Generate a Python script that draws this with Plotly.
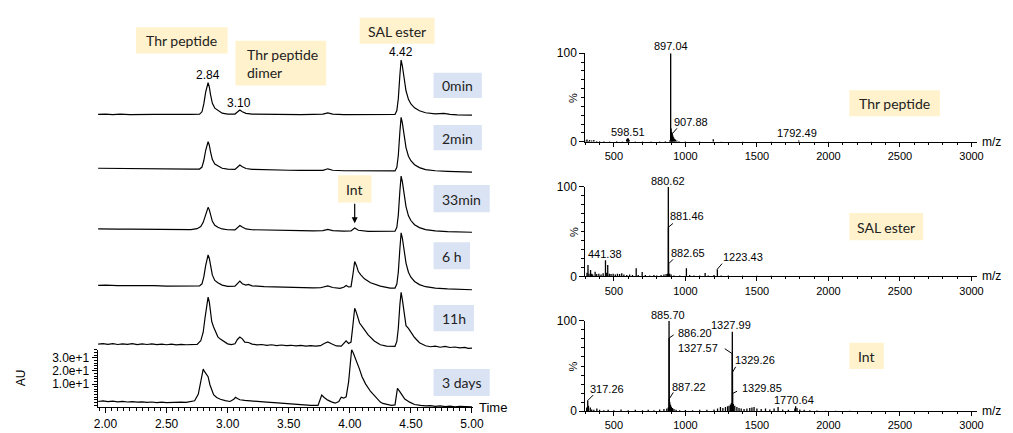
import plotly.graph_objects as go

W, H = 1013, 433

# ======================= DATA =======================
# LC traces: (retention time [min], signal [AU]); upper traces relative to their own baseline
lc_0min = [(1.94, 0.0), (2.0, 0.3), (2.06, -0.2), (2.12, 0.2), (2.2, -0.1), (2.3, 0.2), (2.4, 0.0), (2.5, 0.1),
           (2.6, -0.1), (2.7, 0.1), (2.77, 0.2), (2.79, 2.0), (2.805, 8.0), (2.82, 17.0), (2.84, 24.1), (2.85, 21.0),
           (2.86, 15.0), (2.875, 8.5), (2.895, 4.8), (2.92, 3.0), (2.955, 1.0), (3.0, 0.3), (3.06, 0.3), (3.08, 1.8),
           (3.10, 3.3), (3.12, 2.0), (3.15, 0.8), (3.2, 0.3), (3.3, 0.1), (3.4, -0.1), (3.5, 0.0), (3.6, -0.2),
           (3.7, 0.0), (3.78, 0.2), (3.82, 1.2), (3.86, 0.2), (3.95, -0.1), (4.05, -0.2), (4.15, -0.3), (4.25, -0.2),
           (4.33, -0.3), (4.37, 0.0), (4.385, 3.0), (4.397, 12.0), (4.41, 30.0), (4.42, 41.3), (4.43, 37.0),
           (4.445, 26.0), (4.46, 18.0), (4.48, 11.5), (4.50, 8.0), (4.53, 5.0), (4.57, 2.8), (4.62, 1.3), (4.7, 0.4),
           (4.77, 0.8), (4.82, 0.0), (4.88, -0.3), (4.95, -0.4), (5.0, -0.5)]

lc_2min = [(1.94, 0.0), (2.0, -0.1), (2.1, 0.1), (2.2, -0.4), (2.3, -0.3), (2.4, -0.6), (2.5, -0.6), (2.6, -0.8),
           (2.7, -0.7), (2.77, -0.6), (2.79, 0.9), (2.805, 5.9), (2.82, 13.5), (2.84, 20.2), (2.85, 17.5),
           (2.86, 12.5), (2.875, 6.6), (2.895, 3.2), (2.92, 1.7), (2.955, 0.0), (3.0, -0.7), (3.06, -0.9),
           (3.08, 0.8), (3.10, 2.5), (3.12, 1.2), (3.15, -0.2), (3.2, -0.8), (3.3, -1.2), (3.4, -1.3), (3.5, -1.5),
           (3.6, -1.6), (3.7, -1.7), (3.78, -1.6), (3.82, -0.4), (3.86, -1.5), (3.95, -1.9), (4.05, -2.0),
           (4.15, -2.1), (4.25, -2.2), (4.33, -2.3), (4.37, -2.0), (4.385, 0.7), (4.397, 9.7), (4.41, 27.7),
           (4.42, 38.7), (4.43, 34.5), (4.445, 23.7), (4.46, 15.7), (4.48, 9.2), (4.50, 5.7), (4.53, 2.7),
           (4.57, 0.5), (4.62, -1.0), (4.7, -1.9), (4.8, -2.4), (4.9, -2.7), (5.0, -3.0)]

lc_33min = [(1.94, 0.0), (2.0, 0.1), (2.1, -0.1), (2.2, -0.2), (2.3, -0.3), (2.4, -0.4), (2.5, -0.5), (2.6, -0.6),
            (2.7, -0.5), (2.75, 0.2), (2.78, 1.8), (2.8, 5.0), (2.82, 11.0), (2.84, 16.4), (2.85, 14.5),
            (2.86, 10.5), (2.875, 5.8), (2.895, 2.8), (2.92, 1.3), (2.955, 0.0), (3.0, -0.6), (3.06, -0.7),
            (3.08, 1.0), (3.10, 2.6), (3.12, 1.4), (3.15, 0.0), (3.2, -0.6), (3.3, -0.9), (3.4, -1.0), (3.5, -1.2),
            (3.6, -1.3), (3.7, -1.4), (3.78, -1.3), (3.82, -0.4), (3.86, -1.3), (3.95, -1.6), (4.01, -1.5),
            (4.04, 0.7), (4.07, -1.0), (4.15, -1.8), (4.25, -1.9), (4.33, -2.0), (4.37, -1.7), (4.385, 1.2),
            (4.397, 10.5), (4.41, 29.0), (4.42, 40.1), (4.43, 36.0), (4.445, 25.0), (4.46, 17.0), (4.48, 10.0),
            (4.50, 6.4), (4.53, 3.2), (4.57, 1.0), (4.62, -0.5), (4.7, -1.5), (4.8, -2.0), (4.9, -2.3), (5.0, -2.5)]

lc_6h = [(1.94, 0.0), (2.0, 0.2), (2.1, -0.1), (2.2, 0.0), (2.3, -0.3), (2.4, -0.2), (2.5, -0.5), (2.6, -0.5),
         (2.7, -0.6), (2.77, -0.4), (2.79, 1.2), (2.805, 6.5), (2.82, 15.0), (2.84, 23.2), (2.85, 20.5),
         (2.86, 14.5), (2.875, 7.8), (2.895, 3.8), (2.92, 2.0), (2.955, 0.2), (3.0, -0.7), (3.06, -0.6),
         (3.08, 1.5), (3.10, 3.2), (3.12, 1.3), (3.15, 0.2), (3.17, 0.7), (3.2, -0.3), (3.3, -1.0), (3.4, -1.3),
         (3.5, -1.5), (3.6, -1.7), (3.7, -1.9), (3.76, -1.8), (3.79, -0.8), (3.82, -0.4), (3.86, -1.6),
         (3.92, -2.2), (3.95, -1.4), (3.97, 0.0), (3.99, -1.2), (4.01, -1.0), (4.025, 8.0), (4.04, 18.1),
         (4.055, 15.0), (4.07, 10.5), (4.09, 8.0), (4.12, 5.0), (4.17, 2.0), (4.25, -0.6), (4.33, -2.0),
         (4.37, -2.0), (4.385, 1.0), (4.397, 10.0), (4.41, 28.0), (4.42, 39.9), (4.43, 36.0), (4.445, 25.0),
         (4.46, 17.0), (4.48, 10.0), (4.50, 6.2), (4.53, 3.0), (4.57, 0.6), (4.62, -1.0), (4.7, -2.0),
         (4.8, -2.6), (4.9, -3.0), (5.0, -3.3)]

lc_11h = [(1.94, 0.0), (1.98, 0.4), (2.02, -0.2), (2.06, 0.3), (2.1, -0.3), (2.14, 0.2), (2.18, -0.2), (2.22, 0.3),
          (2.26, -0.4), (2.3, 0.1), (2.34, -0.3), (2.38, 0.2), (2.42, -0.4), (2.46, 0.0), (2.5, -0.5),
          (2.54, -0.1), (2.58, -0.6), (2.62, -0.2), (2.66, -0.5), (2.7, -0.3), (2.75, -0.2), (2.78, 2.5),
          (2.80, 9.0), (2.815, 20.0), (2.83, 31.0), (2.84, 35.7), (2.85, 32.0), (2.86, 24.0), (2.87, 17.0),
          (2.885, 13.0), (2.9, 9.5), (2.92, 5.5), (2.94, 3.8), (2.97, 1.8), (3.0, 0.2), (3.03, -0.4), (3.06, 0.2),
          (3.08, 3.5), (3.10, 5.3), (3.12, 4.0), (3.14, 1.5), (3.17, 1.2), (3.2, 0.0), (3.24, -0.6), (3.28, -0.3),
          (3.32, -0.9), (3.36, -0.5), (3.4, -1.1), (3.44, -0.7), (3.48, -1.2), (3.52, -0.9), (3.56, -1.4),
          (3.6, -1.0), (3.64, -1.5), (3.68, -1.2), (3.72, -1.6), (3.76, -1.2), (3.79, 0.5), (3.82, 1.7),
          (3.85, 0.2), (3.89, -1.4), (3.93, -1.6), (3.95, 0.2), (3.97, 2.4), (3.99, 0.5), (4.01, 1.5),
          (4.025, 14.0), (4.04, 27.2), (4.05, 25.0), (4.065, 20.0), (4.08, 16.0), (4.1, 13.5), (4.12, 11.0),
          (4.15, 7.0), (4.2, 2.4), (4.25, -0.5), (4.3, -1.6), (4.34, -1.9), (4.37, -1.7), (4.385, 2.0),
          (4.397, 12.0), (4.41, 30.0), (4.42, 39.3), (4.43, 34.0), (4.445, 24.0), (4.46, 14.0), (4.48, 12.0),
          (4.50, 9.5), (4.53, 5.0), (4.57, 1.0), (4.62, -1.3), (4.66, -2.0), (4.7, -1.5), (4.74, -2.4),
          (4.78, -1.8), (4.82, -2.6), (4.86, -2.2), (4.9, -2.9), (4.94, -2.5), (4.97, -3.2), (5.0, -3.0)]

# bottom trace, absolute AU on the visible axis
lc_3days = [(1.94, -3.2), (1.98, -2.8), (2.02, -3.3), (2.06, -3.0), (2.1, -3.5), (2.14, -3.2), (2.18, -3.6),
            (2.22, -3.3), (2.26, -3.7), (2.3, -3.5), (2.34, -3.9), (2.38, -3.6), (2.42, -4.0), (2.46, -3.7),
            (2.5, -4.1), (2.54, -3.8), (2.58, -4.0), (2.62, -3.7), (2.66, -3.9), (2.7, -3.5), (2.73, -2.7),
            (2.76, 2.4), (2.78, 13.5), (2.8, 21.4), (2.81, 19.6), (2.825, 17.4), (2.84, 15.6), (2.855, 9.5),
            (2.87, 4.9), (2.885, 1.9), (2.91, -0.2), (2.94, -1.5), (2.98, -2.5), (3.02, -3.2), (3.05, -1.5),
            (3.065, 0.0), (3.08, -0.9), (3.1, -1.9), (3.14, -2.4), (3.2, -3.0), (3.26, -3.3), (3.32, -3.7),
            (3.38, -4.1), (3.44, -4.6), (3.5, -5.0), (3.56, -5.5), (3.62, -5.7), (3.68, -6.1), (3.74, -6.2),
            (3.755, -1.7), (3.77, 1.7), (3.79, -0.2), (3.82, -2.2), (3.85, -3.5), (3.88, -4.5), (3.91, -3.2),
            (3.93, 0.0), (3.95, -0.7), (3.97, 0.3), (3.99, 11.5), (4.005, 27.8), (4.015, 36.3), (4.03, 33.3),
            (4.05, 28.8), (4.065, 25.2), (4.08, 21.2), (4.1, 15.6), (4.13, 10.0), (4.17, 4.4), (4.21, 0.3),
            (4.24, -2.2), (4.25, -3.7), (4.27, -4.7), (4.3, -5.5), (4.34, -6.2), (4.37, -5.8), (4.38, 0.3),
            (4.39, 6.8), (4.405, 4.9), (4.425, 1.9), (4.45, -1.3), (4.49, -3.7), (4.53, -5.5), (4.58, -6.2),
            (4.62, -6.6), (4.66, -6.4), (4.7, -6.9), (4.74, -6.6), (4.78, -7.1), (4.82, -6.8), (4.86, -7.2),
            (4.9, -7.0), (4.95, -7.3), (5.0, -7.3)]

lc_names = ["0min", "2min", "33min", "6 h", "11h", "3 days"]
lc_series = [lc_0min, lc_2min, lc_33min, lc_6h, lc_11h, lc_3days]
# retention-time labels on the 0min trace: (time, signal, text)
lc_peak_labels = [(2.84, 24.1, "2.84"), (3.10, 3.3, "3.10"), (4.42, 41.3, "4.42")]
# intermediate peak on the 33min trace
lc_int_peak = (4.04, 0.7)
lc_yticks = [10, 20, 30]

# Mass spectra: (m/z, relative intensity %)
ms_thr = [(305, 1.5), (312, 2.5), (320, 1.0), (330, 2.0), (345, 1.5), (360, 2.0), (380, 1.0), (400, 1.0),
          (430, 0.8), (470, 0.6), (520, 0.8), (560, 0.6), (590, 2.5), (594, 3.5), (598.51, 4.0), (602, 3.5),
          (606, 2.0), (650, 0.5), (700, 0.6), (760, 0.5), (820, 0.6), (860, 0.8), (890, 1.5), (897.04, 100.0),
          (900, 15.0), (904, 11.0), (907.88, 9.0), (912, 7.0), (917, 5.0), (923, 3.5), (930, 2.5), (940, 1.5),
          (955, 1.0), (1000, 0.6), (1100, 0.5), (1195, 3.0), (1250, 0.4), (1400, 0.4), (1600, 0.3),
          (1792.49, 1.5), (2000, 0.3), (2300, 0.2)]
ms_sal = [(312, 4.0), (319, 12.6), (326, 3.0), (337, 7.0), (345, 3.0), (352, 2.0), (369, 5.0), (380, 2.5),
          (395, 3.0), (410, 2.0), (425, 3.5), (441.38, 18.0), (450, 4.0), (457, 12.6), (468, 3.0), (480, 2.5),
          (495, 3.0), (510, 2.0), (525, 3.0), (540, 2.5), (555, 3.5), (570, 2.0), (590, 1.5), (610, 2.0),
          (630, 1.5), (656, 9.0), (670, 1.5), (698, 4.7), (720, 1.5), (750, 1.0), (780, 1.5), (800, 1.0),
          (830, 1.5), (850, 2.0), (865, 2.5), (875, 3.0), (880.62, 100.0), (881.46, 55.0), (882.65, 14.0),
          (890, 3.0), (900, 2.0), (920, 1.0), (960, 1.0), (1007, 9.0), (1030, 1.5), (1060, 1.0), (1100, 1.0),
          (1138, 3.6), (1160, 1.0), (1200, 1.5), (1223.43, 8.0), (1250, 1.0), (1300, 0.8), (1400, 0.6),
          (1500, 0.5), (1600, 0.5), (1700, 0.4)]
ms_int = [(310, 4.0), (317.26, 11.8), (322, 6.0), (335, 4.0), (345, 2.0), (360, 1.5), (381, 3.0), (400, 1.5),
          (430, 1.0), (460, 1.5), (500, 1.0), (550, 2.0), (600, 1.0), (650, 1.5), (700, 1.0), (740, 1.5),
          (780, 1.0), (820, 2.0), (850, 2.5), (870, 3.0), (880, 4.0), (885.70, 100.0), (886.20, 81.0),
          (887.22, 13.6), (891, 10.0), (896, 7.0), (902, 5.0), (910, 3.5), (920, 2.5), (935, 1.5), (960, 1.0),
          (1000, 1.2), (1050, 1.0), (1100, 1.5), (1150, 1.5), (1200, 2.0), (1225, 3.0), (1245, 4.5),
          (1262, 3.5), (1280, 4.5), (1295, 5.5), (1305, 6.0), (1315, 7.5), (1322, 9.0), (1327.57, 63.6),
          (1327.99, 88.0), (1329.26, 43.0), (1329.85, 19.6), (1335, 8.0), (1345, 6.0), (1360, 4.5), (1375, 3.5),
          (1390, 3.0), (1410, 2.5), (1430, 3.0), (1450, 3.5), (1465, 4.0), (1480, 4.5), (1500, 3.0), (1530, 2.5),
          (1560, 3.0), (1590, 2.0), (1620, 3.0), (1648, 4.6), (1680, 2.0), (1720, 1.5), (1765, 3.0),
          (1770.64, 5.4), (1780, 3.5), (1800, 2.0), (1830, 1.5), (1870, 1.0), (1920, 0.8), (1980, 0.6),
          (2050, 0.5), (2150, 0.4), (2300, 0.3)]
ms_thr_labels = [897.04, 907.88, 598.51, 1792.49]
ms_sal_labels = [880.62, 881.46, 882.65, 1223.43, 441.38]
ms_int_labels = [885.70, 886.20, 887.22, 1327.99, 1327.57, 1329.26, 1329.85, 1770.64, 317.26]
ms_names = ["Thr peptide", "SAL ester", "Int"]
ms_xticks = [500, 1000, 1500, 2000, 2500, 3000]

# ======================= LAYOUT / STYLE =======================
def fx(px):
    return px / W


def fy(py):
    return 1 - py / H


TICKFONT = dict(family="Liberation Sans, Arial, sans-serif", size=12, color="black")
LABFONT = dict(family="Liberation Sans, Arial, sans-serif", size=11, color="black")
BOXFONT = dict(family="Lato, Calibri, sans-serif", size=14, color="#222222")
YELLOW, BLUE = "#FFF2CC", "#DAE3F3"
CLEAR = "rgba(0,0,0,0)"

LC_X = (95, 476)
LC_TRANGE = [1.9355, 5.008]
LC_BOT, LC_TOP = 413.5, 354.0
LC_YRANGE = [-7.5, 36.25]
PX_PER_AU = (LC_BOT - LC_TOP) / (LC_YRANGE[1] - LC_YRANGE[0])
Y2_RANGE = [LC_YRANGE[0], LC_YRANGE[0] + LC_BOT / PX_PER_AU]
# vertical offsets (AU) of the stacked traces
lc_offsets = [214.9, 174.0, 127.9, 85.0, 40.4, 0.0]

MS_X = (590, 988)
MS_XRANGE = [300, 3041]
MS_PANELS = [(139.3, 47.7), (278.3, 186.0), (417.7, 324.3)]  # (y of 0 %, y of 100 %)

fig = go.Figure()

# ---- LC traces ----
for i, (name, series) in enumerate(zip(lc_names, lc_series)):
    t = [p[0] for p in series]
    v = [p[1] for p in series]
    if i == len(lc_series) - 1:
        fig.add_trace(go.Scatter(x=t, y=v, xaxis="x", yaxis="y", mode="lines", name=name,
                                 line=dict(color="black", width=1.2)))
    else:
        fig.add_trace(go.Scatter(x=t, y=[a + lc_offsets[i] for a in v], xaxis="x", yaxis="y2",
                                 mode="lines", name=name, line=dict(color="black", width=1.2)))


# ---- MS sticks ----
def sticks(peaks):
    xs, ys = [], []
    for m, h in peaks:
        xs += [m, m, None]
        ys += [0, h, None]
    return xs, ys


ms_series = [ms_thr, ms_sal, ms_int]
for k, peaks in enumerate(ms_series):
    xs, ys = sticks(peaks)
    fig.add_trace(go.Scatter(x=xs, y=ys, xaxis=f"x{k + 2}", yaxis=f"y{k + 3}", mode="lines",
                             name=ms_names[k], line=dict(color="black", width=1.3)))

layout = dict(
    width=W, height=H, margin=dict(l=0, r=0, t=0, b=0, pad=0),
    paper_bgcolor="white", plot_bgcolor=CLEAR, showlegend=False,
    xaxis=dict(domain=[fx(LC_X[0]), fx(LC_X[1])], range=LC_TRANGE, anchor="y", showline=True,
               linecolor="black", linewidth=1, ticks="outside", ticklen=5, tickcolor="black",
               tick0=2, dtick=0.5, tickformat=".2f", tickfont=TICKFONT, showgrid=False, zeroline=False,
               minor=dict(tick0=2, dtick=0.05, ticklen=3, ticks="outside", tickcolor="black", showgrid=False)),
    yaxis=dict(domain=[fy(LC_BOT), fy(LC_TOP)], range=LC_YRANGE, anchor="x", showline=True,
               linecolor="black", linewidth=1, ticks="outside", ticklen=5, tickcolor="black",
               tickmode="array", tickvals=lc_yticks, tickformat=".1e", tickfont=TICKFONT,
               showgrid=False, zeroline=False,
               minor=dict(tickmode="linear", tick0=0, dtick=2, ticklen=3, ticks="outside",
                          tickcolor="black", showgrid=False)),
    yaxis2=dict(domain=[fy(LC_BOT), 1], range=Y2_RANGE, anchor="x", visible=False,
                showgrid=False, zeroline=False),
)
for k, (y0, y100) in enumerate(MS_PANELS):
    layout[f"xaxis{k + 2}"] = dict(domain=[fx(MS_X[0]), fx(MS_X[1])], range=MS_XRANGE, anchor=f"y{k + 3}",
                                   showline=True, linecolor="black", linewidth=1, ticks="outside",
                                   ticklen=4, tickcolor="black", tickmode="array", tickvals=ms_xticks,
                                   tickfont=dict(TICKFONT, size=11), showgrid=False, zeroline=False,
                                   minor=dict(tickmode="linear", tick0=0, dtick=100, ticklen=2,
                                              ticks="outside", tickcolor="black", showgrid=False))
    layout[f"yaxis{k + 3}"] = dict(domain=[fy(y0), fy(y100)], range=[0, 100], anchor=f"x{k + 2}",
                                   showline=True, linecolor="black", linewidth=1, ticks="outside",
                                   ticklen=5, tickcolor="black", tickmode="array", tickvals=[0, 100],
                                   tickfont=TICKFONT, showgrid=False, zeroline=False,
                                   minor=dict(tickmode="linear", tick0=0, dtick=10, ticklen=3,
                                              ticks="outside", tickcolor="black", showgrid=False))
fig.update_layout(**layout)

annotations = []
shapes = []


def text_ann(x, y, text, xref, yref, font, dx=0, dy=0, xanchor="center", yanchor="middle", angle=0, align="center"):
    annotations.append(dict(x=x, y=y, xref=xref, yref=yref, text=text, showarrow=False, font=font,
                            xanchor=xanchor, yanchor=yanchor, xshift=dx, yshift=-dy, textangle=angle,
                            align=align))


def leader(x, y, xref, yref, ax, ay, head=0, width=1.0):
    annotations.append(dict(x=x, y=y, xref=xref, yref=yref, text="", showarrow=True, arrowhead=head,
                            arrowsize=1, arrowwidth=width, arrowcolor="black", ax=ax, ay=ay,
                            standoff=0, startstandoff=0))


# LC peak labels on 0min trace
lc_label_shift = {"2.84": (0, -8), "3.10": (-1, -7), "4.42": (0, -8)}
for t, h, txt in lc_peak_labels:
    dx, dy = lc_label_shift[txt]
    text_ann(t, h + lc_offsets[0], txt, "x", "y2", TICKFONT, dx=dx, dy=dy)

# Int arrow on 33min trace
leader(lc_int_peak[0], lc_int_peak[1] + lc_offsets[2] + 3.6, "x", "y2", 0, -21, head=2, width=1.2)

# MS peak labels
ms_label_layout = {
    "897.04": (0, -7, "center", None), "907.88": (0, -12, "left", (6, -7)),
    "598.51": (0, -6, "center", None), "1792.49": (-2, -7, "center", None),
    "880.62": (0, -6, "center", None), "881.46": (0, -11, "left", (6, -5)),
    "882.65": (0, -11, "left", (6, -6)), "1223.43": (4, -12, "left", (6, -7)),
    "441.38": (0, -6, "center", None),
    "885.70": (-1, -6, "center", None), "886.20": (7, -5, "left", (6, -4)),
    "887.22": (1, -12, "left", (5, -8)), "1327.99": (-1, -7, "center", None),
    "1327.57": (-12, -6, "right", (-9, -6)), "1329.26": (0, -12, "left", (4, -7)),
    "1329.85": (7, -5, "left", (6, -3)), "1770.64": (-2, -6, "center", None),
    "317.26": (0, -12, "left", (7, -7)),
}
for k, (peaks, labs) in enumerate(zip(ms_series, [ms_thr_labels, ms_sal_labels, ms_int_labels])):
    lookup = dict(peaks)
    xr, yr = f"x{k + 2}", f"y{k + 3}"
    for m in labs:
        txt = f"{m:.2f}"
        dx, dy, anc, lead = ms_label_layout[txt]
        h = lookup[m]
        if lead is not None:
            leader(m, h, xr, yr, lead[0], lead[1])
        text_ann(m, h, txt, xr, yr, LABFONT, dx=dx, dy=dy, xanchor=anc)

# boxes
boxes = [
    ("Thr peptide", 134, 21, 227, 48, YELLOW, "center"),
    ("Thr peptide<br>dimer", 235, 35, 327, 81, YELLOW, "left"),
    ("SAL ester", 361, 11, 437, 38, YELLOW, "center"),
    ("Int", 339, 174, 373, 202, YELLOW, "center"),
    ("Thr peptide", 858, 86, 950, 113, YELLOW, "center"),
    ("SAL ester", 858, 213, 933, 241, YELLOW, "center"),
    ("Int", 858, 347, 893, 374, YELLOW, "center"),
]
blue_boxes = [(436, 68, 485, 94), (436, 122, 485, 148), (436, 184, 493, 212),
              (436, 243, 473, 271), (436, 308, 477, 335), (436, 374, 493, 402)]
for i, (x0, y0, x1, y1) in enumerate(blue_boxes):
    boxes.append((lc_names[i], x0, y0, x1, y1, BLUE, "center"))

for txt, x0, y0, x1, y1, col, al in boxes:
    shapes.append(dict(type="rect", xref="paper", yref="paper", x0=fx(x0), x1=fx(x1), y0=fy(y1), y1=fy(y0),
                       fillcolor=col, line=dict(width=0), layer="above"))
    if al == "left":
        text_ann(fx(x0 + 10), fy((y0 + y1) / 2), txt, "paper", "paper", BOXFONT, xanchor="left", align="left")
    else:
        text_ann(fx((x0 + x1) / 2), fy((y0 + y1) / 2 + 0.5), txt, "paper", "paper", BOXFONT)

# axis titles
text_ann(fx(17), fy(383), "AU", "paper", "paper", dict(TICKFONT, size=12), angle=-90)
text_ann(fx(480), fy(414), "Time", "paper", "paper", dict(TICKFONT, size=13), xanchor="left")
for y0, y100 in MS_PANELS:
    text_ann(fx(991), fy(y0), "m/z", "paper", "paper", TICKFONT, xanchor="left")
    text_ann(fx(578), fy((y0 + y100) / 2), "%", "paper", "paper", dict(TICKFONT, size=11), angle=-90)

fig.update_layout(annotations=annotations, shapes=shapes)

fig.write_html("out.html", config={"displayModeBar": False},
               post_script="document.body.style.margin='0';document.body.style.overflow='hidden';")
